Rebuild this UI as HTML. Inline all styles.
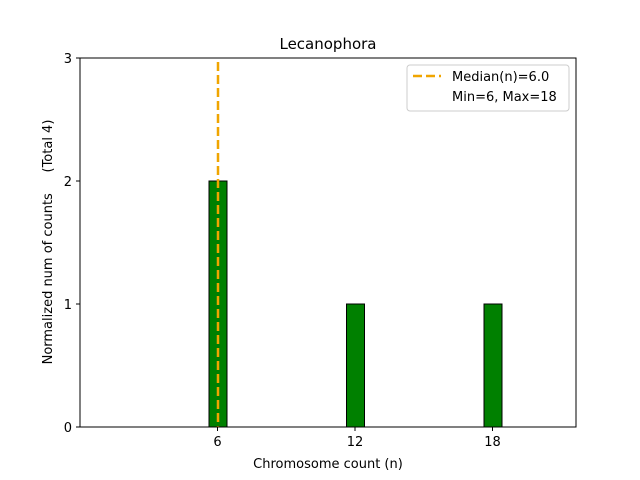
<!DOCTYPE html>
<html><head><meta charset="utf-8"><style>body{margin:0;background:#fff}svg{display:block}text{font-family:"DejaVu Sans","Liberation Sans",sans-serif;fill:#000}</style></head>
<body>
<svg width="640" height="480" viewBox="0 0 640 480" xmlns="http://www.w3.org/2000/svg">
<rect width="640" height="480" fill="#fff"/>
<!-- bars -->
<rect x="209" y="181" width="18" height="246" fill="#008000" stroke="#000" stroke-width="1"/>
<rect x="346.5" y="304" width="18" height="123" fill="#008000" stroke="#000" stroke-width="1"/>
<rect x="484" y="304" width="18" height="123" fill="#008000" stroke="#000" stroke-width="1"/>
<!-- median line -->
<line x1="218" y1="62" x2="218" y2="427" stroke="#f0a500" stroke-width="2.5" stroke-dasharray="9,4"/>
<!-- axes -->
<rect x="80" y="58" width="496" height="369" fill="none" stroke="#000" stroke-width="1"/>
<g stroke="#000" stroke-width="1">
<line x1="76" y1="427" x2="80" y2="427"/><line x1="76" y1="304" x2="80" y2="304"/>
<line x1="76" y1="181" x2="80" y2="181"/><line x1="76" y1="58" x2="80" y2="58"/>
<line x1="217.5" y1="427" x2="217.5" y2="431"/><line x1="355" y1="427" x2="355" y2="431"/><line x1="492.5" y1="427" x2="492.5" y2="431"/>
</g>
<g font-size="13" text-anchor="end">
<text x="72" y="432">0</text><text x="72" y="309">1</text><text x="72" y="186">2</text><text x="72" y="63">3</text>
</g>
<g font-size="13" text-anchor="middle">
<text x="217.5" y="446">6</text><text x="355" y="446">12</text><text x="492.5" y="446">18</text>
<text x="328" y="468">Chromosome count (n)</text>
<text x="328" y="49" font-size="15">Lecanophora</text>
</g>
<text transform="translate(52,242) rotate(-90)" font-size="13" text-anchor="middle">Normalized num of counts&#160;&#160;&#160;&#160;&#160;(Total 4)</text>
<!-- legend -->
<rect x="407" y="65" width="162" height="46" rx="3" fill="#fff" fill-opacity="0.8" stroke="#ccc"/>
<line x1="413" y1="76" x2="441" y2="76" stroke="#f0a500" stroke-width="2.5" stroke-dasharray="9,4"/>
<text x="452" y="81" font-size="13">Median(n)=6.0</text>
<text x="452" y="101" font-size="13">Min=6, Max=18</text>
</svg>
</body></html>
